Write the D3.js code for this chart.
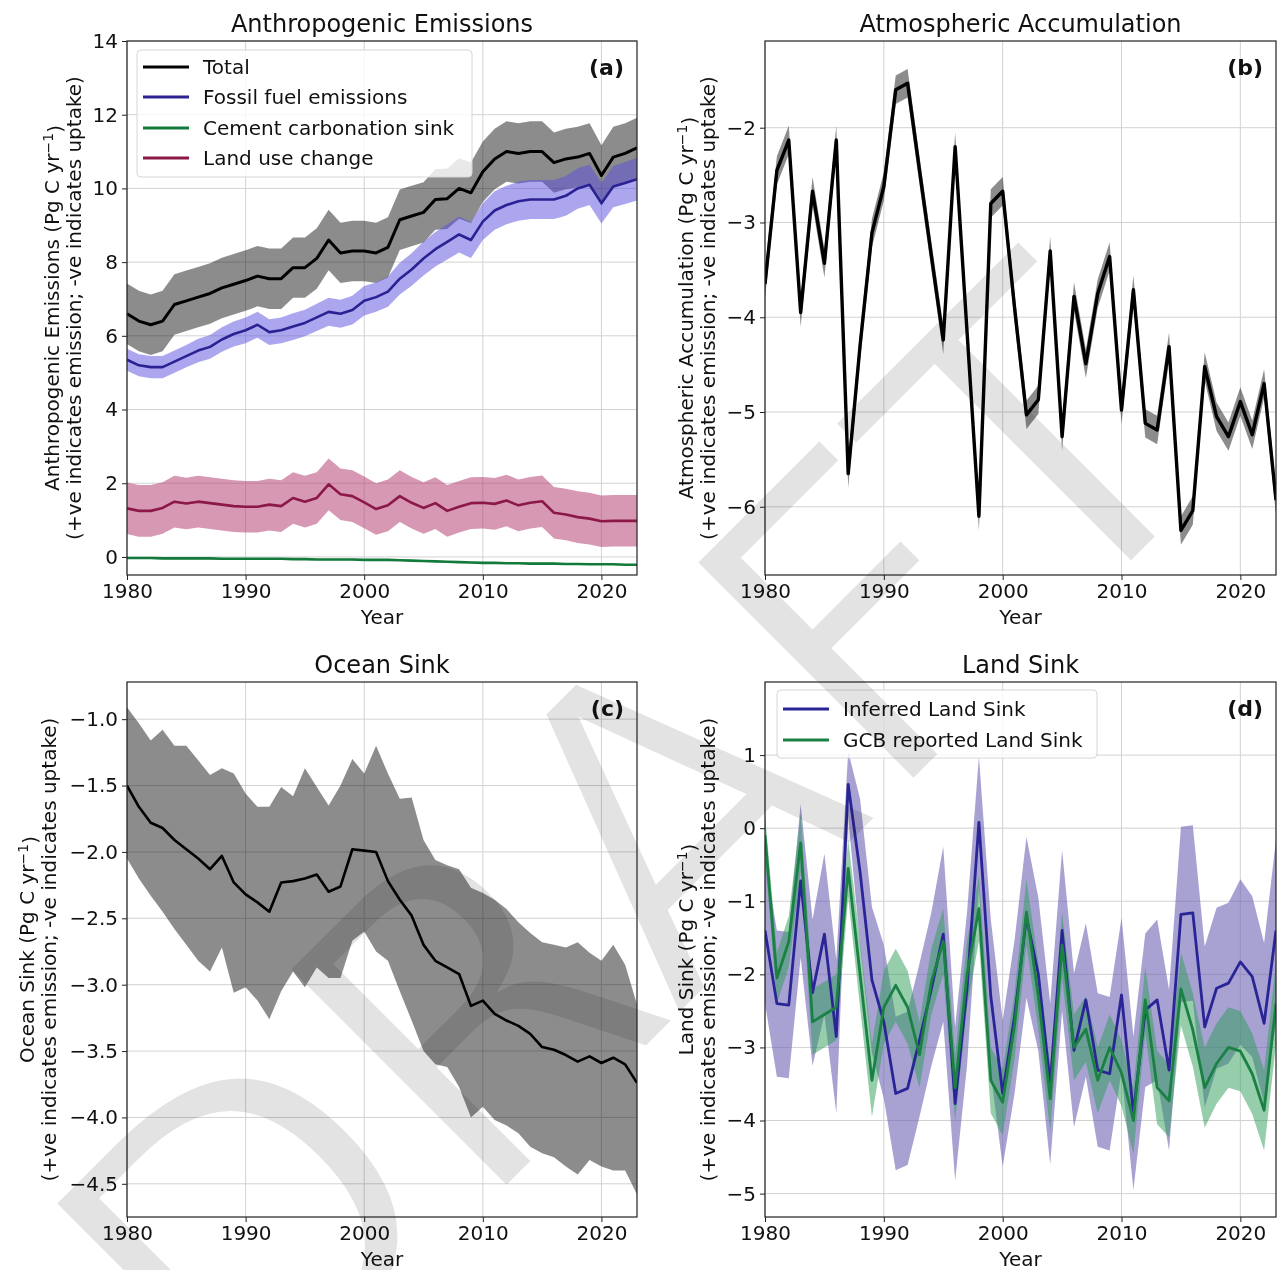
<!DOCTYPE html>
<html>
<head>
<meta charset="utf-8">
<script src="https://cdn.jsdelivr.net/npm/d3@7"></script>
<style>
  body { margin: 0; background: #fff; }
  svg text { font-family: "DejaVu Sans", sans-serif; }
</style>
</head>
<body>
<div id="chart"></div>
<script>
// ---- data (Pg C / yr) ----
const years = [1980,1981,1982,1983,1984,1985,1986,1987,1988,1989,
  1990,1991,1992,1993,1994,1995,1996,1997,1998,1999,
  2000,2001,2002,2003,2004,2005,2006,2007,2008,2009,
  2010,2011,2012,2013,2014,2015,2016,2017,2018,2019,
  2020,2021,2022,2023];
const xTicks = [1980, 1990, 2000, 2010, 2020];

// (a) anthropogenic emissions
const totalEmis = [6.6,6.4,6.3,6.4,6.85,6.95,7.05,7.15,7.3,7.4,
  7.5,7.62,7.55,7.55,7.85,7.85,8.1,8.6,8.25,8.3,
  8.3,8.25,8.4,9.15,9.25,9.35,9.7,9.72,10.0,9.88,
  10.45,10.8,11.0,10.95,11.0,11.0,10.7,10.8,10.85,10.95,
  10.35,10.85,10.95,11.1];
const totalUnc = 0.82;
const fossilEmis = [5.35,5.2,5.15,5.15,5.3,5.45,5.6,5.7,5.9,6.05,
  6.15,6.3,6.1,6.15,6.25,6.35,6.5,6.65,6.6,6.7,
  6.95,7.05,7.2,7.55,7.8,8.1,8.35,8.55,8.75,8.6,
  9.1,9.4,9.55,9.65,9.7,9.7,9.7,9.8,10.0,10.1,
  9.6,10.05,10.15,10.25];
const fossilUnc = [0.3,0.3,0.3,0.3,0.3,0.3,0.32,0.32,0.33,0.34,
  0.35,0.35,0.35,0.35,0.36,0.36,0.37,0.38,0.38,0.39,
  0.4,0.4,0.41,0.43,0.44,0.46,0.47,0.48,0.49,0.49,
  0.5,0.52,0.52,0.53,0.53,0.53,0.53,0.54,0.55,0.55,
  0.55,0.56,0.57,0.58];
const cementSink = [-0.03,-0.03,-0.03,-0.04,-0.04,-0.04,-0.04,-0.04,-0.05,-0.05,
  -0.05,-0.05,-0.05,-0.05,-0.06,-0.06,-0.07,-0.07,-0.07,-0.07,
  -0.08,-0.08,-0.08,-0.09,-0.1,-0.11,-0.12,-0.13,-0.14,-0.15,
  -0.16,-0.16,-0.17,-0.17,-0.18,-0.18,-0.18,-0.19,-0.19,-0.2,
  -0.2,-0.2,-0.21,-0.21];
const cementUnc = 0.02;
const lucEmis = [1.32,1.25,1.25,1.33,1.5,1.45,1.5,1.46,1.42,1.38,
  1.36,1.36,1.42,1.38,1.6,1.5,1.6,1.97,1.7,1.65,
  1.48,1.3,1.4,1.65,1.47,1.33,1.46,1.25,1.36,1.46,
  1.47,1.44,1.53,1.4,1.47,1.51,1.2,1.15,1.08,1.04,
  0.97,0.98,0.98,0.98];
const lucUnc = 0.7;

// (b) atmospheric accumulation
const atmosAccum = [-3.65,-2.45,-2.13,-3.95,-2.67,-3.43,-2.13,-5.65,-4.3,-3.11,
  -2.62,-1.6,-1.53,-2.45,-3.35,-4.24,-2.2,-4.15,-6.1,-2.8,
  -2.67,-3.9,-5.03,-4.87,-3.3,-5.26,-3.78,-4.49,-3.75,-3.36,
  -4.98,-3.71,-5.12,-5.19,-4.31,-6.25,-6.04,-4.52,-5.05,-5.26,
  -4.89,-5.24,-4.7,-5.93];
const atmosUnc = 0.15;

// (c) ocean sink, central estimate and band edges
const oceanSink = [-1.5,-1.66,-1.78,-1.82,-1.91,-1.98,-2.05,-2.13,-2.03,-2.23,
  -2.32,-2.38,-2.45,-2.23,-2.22,-2.2,-2.17,-2.3,-2.26,-1.98,
  -1.99,-2.0,-2.22,-2.36,-2.48,-2.7,-2.82,-2.87,-2.92,-3.16,
  -3.12,-3.22,-3.27,-3.31,-3.37,-3.47,-3.49,-3.53,-3.58,-3.54,
  -3.59,-3.55,-3.6,-3.74];
const oceanUpper = [-0.91,-1.03,-1.16,-1.08,-1.2,-1.2,-1.31,-1.42,-1.37,-1.41,
  -1.56,-1.66,-1.66,-1.51,-1.58,-1.37,-1.51,-1.65,-1.5,-1.3,
  -1.41,-1.2,-1.41,-1.6,-1.59,-1.91,-2.06,-2.1,-2.13,-2.27,
  -2.31,-2.36,-2.43,-2.53,-2.61,-2.68,-2.7,-2.72,-2.68,-2.76,
  -2.82,-2.7,-2.85,-3.15];
const oceanLower = [-2.05,-2.2,-2.33,-2.45,-2.58,-2.7,-2.82,-2.9,-2.72,-3.06,
  -3.02,-3.12,-3.26,-3.05,-2.9,-3.02,-2.87,-2.95,-2.95,-2.67,
  -2.6,-2.75,-2.82,-3.05,-3.27,-3.5,-3.6,-3.62,-3.77,-4.0,
  -3.92,-4.02,-4.06,-4.12,-4.22,-4.27,-4.3,-4.37,-4.43,-4.32,
  -4.37,-4.4,-4.4,-4.58];

// (d) land sink
const landInferred = [-1.4,-2.4,-2.42,-0.72,-2.25,-1.45,-2.85,0.6,-0.6,-2.08,
  -2.65,-3.63,-3.56,-2.9,-2.2,-1.45,-3.77,-2.2,0.08,-2.3,
  -3.63,-2.58,-1.22,-2.0,-3.5,-1.4,-3.04,-2.35,-3.31,-3.36,
  -2.28,-3.9,-2.49,-2.35,-3.31,-1.18,-1.16,-2.72,-2.19,-2.12,
  -1.83,-2.03,-2.67,-1.4];
const landInferredUnc = [1.0,1.0,1.0,1.05,1.0,1.1,1.05,0.45,1.0,1.0,
  1.05,1.05,1.05,1.05,1.05,1.2,1.05,1.05,0.9,1.05,
  1.0,1.05,1.1,1.05,1.1,1.1,1.05,1.05,1.05,1.05,
  1.05,1.05,1.05,1.1,1.1,1.2,1.2,1.1,1.1,1.1,
  1.13,1.1,1.1,1.25];
const landGCB = [-0.1,-2.05,-1.55,-0.2,-2.65,-2.55,-2.45,-0.55,-2.0,-3.45,
  -2.45,-2.15,-2.45,-3.1,-2.1,-1.55,-3.55,-2.0,-1.1,-3.45,
  -3.75,-2.7,-1.15,-2.3,-3.7,-1.6,-3.0,-2.75,-3.45,-3.0,
  -3.35,-4.0,-2.35,-3.55,-3.73,-2.2,-2.76,-3.55,-3.22,-3.0,
  -3.05,-3.36,-3.86,-2.4];
const landGCBUnc = [0.3,0.35,0.35,0.4,0.45,0.45,0.45,0.4,0.45,0.5,
  0.5,0.5,0.5,0.45,0.45,0.45,0.45,0.45,0.45,0.45,
  0.45,0.45,0.45,0.45,0.45,0.45,0.45,0.45,0.45,0.45,
  0.45,0.45,0.45,0.5,0.5,0.5,0.5,0.55,0.55,0.55,
  0.55,0.55,0.55,0.55];

// ---- helpers ----
const spread = (vals, u) => ({
  lo: vals.map((v, i) => v - (Array.isArray(u) ? u[i] : u)),
  hi: vals.map((v, i) => v + (Array.isArray(u) ? u[i] : u))
});

const W = 1278, H = 1270;
const svg = d3.select('#chart').append('svg')
  .attr('width', W).attr('height', H)
  .style('background', '#fff');

const panels = [
  {
    key: 'a', left: 127, right: 637, top: 41, bottom: 575,
    yDomain: [-0.49, 14], yTicks: [0, 2, 4, 6, 8, 10, 12, 14], yFmt: d3.format('d'),
    title: 'Anthropogenic Emissions', ylab: 'Anthropogenic Emissions', labX: 59,
    series: [
      { name: 'Total', values: totalEmis, band: spread(totalEmis, totalUnc), color: '#000', fill: '#000', op: 0.45, w: 3 },
      { name: 'Fossil fuel emissions', values: fossilEmis, band: spread(fossilEmis, fossilUnc), color: '#2b2192', fill: '#5a4ee0', op: 0.5, w: 2.6 },
      { name: 'Cement carbonation sink', values: cementSink, band: spread(cementSink, cementUnc), color: '#137a3c', fill: '#2e9b57', op: 0.5, w: 2.6 },
      { name: 'Land use change', values: lucEmis, band: spread(lucEmis, lucUnc), color: '#8c1848', fill: '#b03a6e', op: 0.52, w: 2.6 }
    ],
    legend: { x0: 137, y0: 50, x1: 472, y1: 177, rows: [67, 97, 128, 158], lx0: 143, lx1: 189, tx: 203 }
  },
  {
    key: 'b', left: 765, right: 1276, top: 41, bottom: 575,
    yDomain: [-6.72, -1.085], yTicks: [-2, -3, -4, -5, -6], yFmt: d3.format('d'),
    title: 'Atmospheric Accumulation', ylab: 'Atmospheric Accumulation', labX: 693,
    series: [
      { name: 'Atmospheric', values: atmosAccum, band: spread(atmosAccum, atmosUnc), color: '#000', fill: '#000', op: 0.45, w: 3.4 }
    ]
  },
  {
    key: 'c', left: 127, right: 637, top: 682, bottom: 1217,
    yDomain: [-4.75, -0.72], yTicks: [-1, -1.5, -2, -2.5, -3, -3.5, -4, -4.5], yFmt: d3.format('.1f'),
    title: 'Ocean Sink', ylab: 'Ocean Sink', labX: 34,
    series: [
      { name: 'Ocean', values: oceanSink, band: { lo: oceanLower, hi: oceanUpper }, color: '#000', fill: '#000', op: 0.45, w: 2.6 }
    ]
  },
  {
    key: 'd', left: 765, right: 1276, top: 682, bottom: 1217,
    yDomain: [-5.32, 2.0], yTicks: [1, 0, -1, -2, -3, -4, -5], yFmt: d3.format('d'),
    title: 'Land Sink', ylab: 'Land Sink', labX: 693,
    series: [
      { name: 'Inferred Land Sink', values: landInferred, band: spread(landInferred, landInferredUnc), color: '#2a2596', fill: '#6c64b4', op: 0.6, w: 2.8 },
      { name: 'GCB reported Land Sink', values: landGCB, band: spread(landGCB, landGCBUnc), color: '#1b8044', fill: '#2e9b57', op: 0.5, w: 2.8 }
    ],
    legend: { x0: 777, y0: 690, x1: 1097, y1: 758, rows: [709, 740], lx0: 783, lx1: 829, tx: 843 }
  }
];

function drawPanel(p) {
  const x = d3.scaleLinear().domain([1980, 2023]).range([p.left, p.right]);
  const y = d3.scaleLinear().domain(p.yDomain).range([p.bottom, p.top]);
  const g = svg.append('g').attr('class', 'panel-' + p.key);

  const clipId = 'clip-' + p.key;
  g.append('clipPath').attr('id', clipId).append('rect')
    .attr('x', p.left).attr('y', p.top)
    .attr('width', p.right - p.left).attr('height', p.bottom - p.top);

  // grid
  const grid = g.append('g').attr('stroke', '#d2d2d2').attr('stroke-width', 1);
  grid.selectAll('line.gx').data(xTicks).join('line').attr('class', 'gx')
    .attr('x1', d => x(d)).attr('x2', d => x(d)).attr('y1', p.top).attr('y2', p.bottom);
  grid.selectAll('line.gy').data(p.yTicks).join('line').attr('class', 'gy')
    .attr('x1', p.left).attr('x2', p.right).attr('y1', d => y(d)).attr('y2', d => y(d));

  const plot = g.append('g').attr('clip-path', `url(#${clipId})`);
  const area = s => d3.area()
    .x((d, i) => x(years[i]))
    .y0((d, i) => y(s.band.lo[i]))
    .y1((d, i) => y(s.band.hi[i]));
  const line = d3.line().x((d, i) => x(years[i])).y(d => y(d));

  p.series.forEach(s => {
    plot.append('path').datum(s.values)
      .attr('d', area(s)).attr('fill', s.fill).attr('fill-opacity', s.op);
  });
  p.series.forEach(s => {
    plot.append('path').datum(s.values)
      .attr('d', line).attr('fill', 'none')
      .attr('stroke', s.color).attr('stroke-width', s.w)
      .attr('stroke-linejoin', 'round');
  });

  // frame
  g.append('rect')
    .attr('x', p.left).attr('y', p.top)
    .attr('width', p.right - p.left).attr('height', p.bottom - p.top)
    .attr('fill', 'none').attr('stroke', '#222').attr('stroke-width', 1.2);

  // axes
  const xa = g.append('g').attr('transform', `translate(0,${p.bottom})`)
    .call(d3.axisBottom(x).tickValues(xTicks).tickFormat(d3.format('d')).tickSize(5).tickPadding(4));
  const ya = g.append('g').attr('transform', `translate(${p.left},0)`)
    .call(d3.axisLeft(y).tickValues(p.yTicks).tickFormat(p.yFmt).tickSize(5).tickPadding(4));
  [xa, ya].forEach(a => {
    a.select('.domain').remove();
    a.attr('font-family', '"DejaVu Sans", sans-serif').attr('font-size', 20);
    a.selectAll('line').attr('stroke', '#222');
    a.selectAll('text').attr('fill', '#111');
  });

  // titles and labels
  const cx = (p.left + p.right) / 2;
  g.append('text').attr('x', cx).attr('y', p.top - 9)
    .attr('text-anchor', 'middle').attr('font-size', 24).attr('fill', '#111').text(p.title);
  g.append('text').attr('x', cx).attr('y', p.bottom + 49)
    .attr('text-anchor', 'middle').attr('font-size', 20).attr('fill', '#111').text('Year');

  const cy = (p.top + p.bottom) / 2;
  const l1 = g.append('text')
    .attr('transform', `translate(${p.labX},${cy}) rotate(-90)`)
    .attr('text-anchor', 'middle').attr('font-size', 20).attr('fill', '#111');
  l1.append('tspan').text(p.ylab + ' (Pg C yr');
  l1.append('tspan').attr('dy', '-0.45em').attr('font-size', 14).text('\u22121');
  l1.append('tspan').attr('dy', '0.45em').text(')');
  g.append('text')
    .attr('transform', `translate(${p.labX + 22},${cy}) rotate(-90)`)
    .attr('text-anchor', 'middle').attr('font-size', 20).attr('fill', '#111')
    .text('(+ve indicates emission; -ve indicates uptake)');

  g.append('text').attr('x', p.right - 13).attr('y', p.top + 34)
    .attr('text-anchor', 'end').attr('font-size', 22).attr('font-weight', 'bold')
    .attr('fill', '#111').text('(' + p.key + ')');

  // legend
  if (p.legend) {
    const L = p.legend;
    const lg = g.append('g');
    lg.append('rect').attr('x', L.x0).attr('y', L.y0)
      .attr('width', L.x1 - L.x0).attr('height', L.y1 - L.y0)
      .attr('rx', 4).attr('fill', '#fff').attr('fill-opacity', 0.8)
      .attr('stroke', '#d6d6d6');
    p.series.forEach((s, i) => {
      lg.append('line').attr('x1', L.lx0).attr('x2', L.lx1)
        .attr('y1', L.rows[i]).attr('y2', L.rows[i])
        .attr('stroke', s.color).attr('stroke-width', 3.2);
      lg.append('text').attr('x', L.tx).attr('y', L.rows[i]).attr('dy', '0.35em')
        .attr('font-size', 20).attr('fill', '#111').text(s.name);
    });
  }
}

panels.forEach(drawPanel);

// DRAFT watermark over the figure (white outline under multiply thins the glyphs)
svg.append('text')
  .attr('transform', 'translate(632,848) rotate(-45)')
  .attr('text-anchor', 'middle').attr('dy', '0.358em')
  .attr('font-family', '"Liberation Sans", Arial, sans-serif')
  .attr('font-size', 430)
  .attr('fill', '#e3e3e3')
  .attr('stroke', '#fff').attr('stroke-width', 9)
  .style('mix-blend-mode', 'multiply')
  .text('DRAFT');
</script>
</body>
</html>
